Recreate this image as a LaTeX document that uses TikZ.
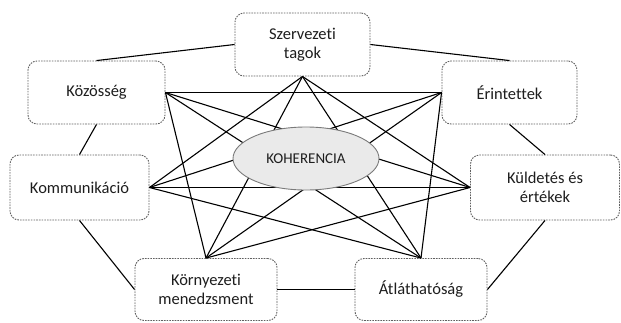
\documentclass[tikz,border=0pt]{standalone}
\usepackage{fontspec}
\setmainfont{Carlito}[Ligatures={NoCommon}]
\usetikzlibrary{shapes.geometric}
\definecolor{boxline}{HTML}{606060}
\definecolor{ellfill}{HTML}{EAEAEA}
\definecolor{ellline}{HTML}{7A7A7A}
\definecolor{txt}{HTML}{1E1E1E}
\tikzset{
  box/.style={draw=boxline, line width=0.9pt, dash pattern=on 1.6pt off 1.1pt,
    rounded corners=9pt, fill=white, align=center, inner sep=0pt, text=txt,
    font=\fontsize{16.5}{19}\selectfont},
  conn/.style={draw=black, line width=1.1pt},
  core/.style={ellipse, draw=ellline, line width=0.9pt, fill=ellfill,
    minimum width=146pt, minimum height=63pt, inner sep=0pt, text=txt,
    font=\fontsize{15}{18}\selectfont}
}
\begin{document}
\begin{tikzpicture}[x=1pt,y=-1pt]
\useasboundingbox (0,0) rectangle (621,322);
% boxes
\node[box, minimum width=135pt, minimum height=63pt] (S)  at (302.5,44.5) {Szervezeti\\tagok};
\node[box, minimum width=137pt, minimum height=63pt] (K)  at (96.5,92.5)  {Közösség};
\node[box, minimum width=135pt, minimum height=63pt] (E)  at (509.5,92.5) {Érintettek};
\node[box, minimum width=139pt, minimum height=65pt] (Ko) at (79.5,187.5) {Kommunikáció};
\node[box, minimum width=149pt, minimum height=65pt] (Ku) at (545,187.5)  {Küldetés és\\értékek};
\node[box, minimum width=142pt, minimum height=62pt] (Kr) at (206,289.5)  {Környezeti\\menedzsment};
\node[box, minimum width=132pt, minimum height=62pt] (A)  at (421,289.5)  {Átláthatóság};
% anchor points for the inner star
\coordinate (pS)  at (S.south);
\coordinate (pK)  at (K.east);
\coordinate (pE)  at (E.west);
\coordinate (pKo) at (Ko.east);
\coordinate (pKu) at (Ku.west);
\coordinate (pKr) at (Kr.north);
\coordinate (pA)  at (A.north);
% outer ring
\draw[conn] (S.west) -- (K.north);
\draw[conn] (S.east) -- (E.north);
\draw[conn] (K.south) -- (Ko.north);
\draw[conn] (E.south) -- (Ku.north);
\draw[conn] (Ko.south) -- (Kr.west);
\draw[conn] (Ku.south) -- (A.east);
\draw[conn] (Kr.east) -- (A.west);
% inner star (all non-adjacent pairs)
\draw[conn] (pS) -- (pKo);
\draw[conn] (pS) -- (pKr);
\draw[conn] (pS) -- (pA);
\draw[conn] (pS) -- (pKu);
\draw[conn] (pK) -- (pE);
\draw[conn] (pK) -- (pKu);
\draw[conn] (pK) -- (pA);
\draw[conn] (pK) -- (pKr);
\draw[conn] (pE) -- (pKo);
\draw[conn] (pE) -- (pKr);
\draw[conn] (pE) -- (pA);
\draw[conn] (pKo) -- (pKu);
\draw[conn] (pKo) -- (pA);
\draw[conn] (pKu) -- (pKr);
% centre
\node[core] (C) at (306,158.5) {KOHERENCIA};
\end{tikzpicture}
\end{document}
